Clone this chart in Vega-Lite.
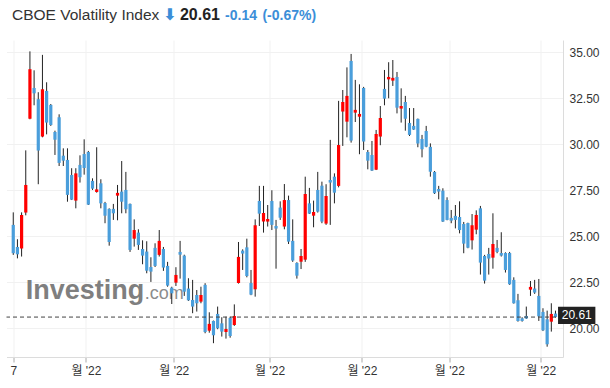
{
  "$schema": "https://vega.github.io/schema/vega-lite/v6.json",
  "width": 556.5,
  "height": 317,
  "autosize": "none",
  "padding": {"left": 6.5, "top": 40, "right": 47, "bottom": 31},
  "background": "white",
  "config": {
    "view": {"stroke": null},
    "axis": {"labelFont": "Liberation Sans", "labelFontSize": 12, "labelColor": "#333333", "gridColor": "#f1f1f1", "domainColor": "#dcdcdc", "title": null}
  },
  "data": {"values": [
    {"i":0,"o":25.62,"h":26.30,"l":23.99,"c":24.08},
    {"i":1,"o":24.42,"h":24.84,"l":23.80,"c":24.02},
    {"i":2,"o":24.33,"h":26.30,"l":23.90,"c":26.16},
    {"i":3,"o":26.29,"h":29.67,"l":26.14,"c":27.79},
    {"i":4,"o":31.39,"h":35.05,"l":31.36,"c":34.08},
    {"i":5,"o":33.06,"h":34.02,"l":32.12,"c":32.77},
    {"i":6,"o":32.45,"h":32.83,"l":27.83,"c":29.66},
    {"i":7,"o":30.42,"h":34.86,"l":30.38,"c":32.99},
    {"i":8,"o":32.90,"h":33.37,"l":30.54,"c":31.18},
    {"i":9,"o":32.14,"h":32.19,"l":31.00,"c":31.05},
    {"i":10,"o":30.67,"h":30.74,"l":29.42,"c":30.25},
    {"i":11,"o":31.47,"h":31.63,"l":28.82,"c":28.99},
    {"i":12,"o":29.38,"h":29.78,"l":28.82,"c":29.11},
    {"i":13,"o":29.15,"h":29.78,"l":26.88,"c":27.25},
    {"i":14,"o":28.33,"h":28.70,"l":26.97,"c":26.99},
    {"i":15,"o":26.94,"h":28.70,"l":26.52,"c":28.42},
    {"i":16,"o":28.88,"h":29.40,"l":27.92,"c":28.21},
    {"i":17,"o":29.47,"h":30.27,"l":28.35,"c":28.71},
    {"i":18,"o":29.58,"h":29.64,"l":26.70,"c":26.72},
    {"i":19,"o":28.01,"h":28.15,"l":27.52,"c":27.59},
    {"i":20,"o":27.41,"h":29.84,"l":27.37,"c":27.55},
    {"i":21,"o":27.88,"h":28.10,"l":26.52,"c":26.79},
    {"i":22,"o":26.81,"h":26.87,"l":25.71,"c":26.12},
    {"i":23,"o":26.49,"h":26.52,"l":24.49,"c":24.69},
    {"i":24,"o":26.49,"h":26.76,"l":25.89,"c":26.25},
    {"i":25,"o":27.21,"h":27.79,"l":25.87,"c":27.36},
    {"i":26,"o":27.43,"h":29.09,"l":26.25,"c":26.88},
    {"i":27,"o":27.52,"h":28.50,"l":26.25,"c":26.47},
    {"i":28,"o":26.76,"h":26.78,"l":24.15,"c":24.26},
    {"i":29,"o":24.87,"h":25.92,"l":24.44,"c":25.34},
    {"i":30,"o":25.20,"h":25.38,"l":24.26,"c":24.53},
    {"i":31,"o":24.31,"h":24.78,"l":23.48,"c":23.95},
    {"i":32,"o":24.17,"h":24.73,"l":22.99,"c":23.13},
    {"i":33,"o":23.33,"h":23.86,"l":22.52,"c":23.08},
    {"i":34,"o":24.37,"h":24.62,"l":23.33,"c":23.39},
    {"i":35,"o":23.99,"h":25.34,"l":23.90,"c":24.75},
    {"i":36,"o":24.31,"h":24.42,"l":23.12,"c":23.30},
    {"i":37,"o":23.39,"h":23.61,"l":22.26,"c":22.32},
    {"i":38,"o":22.21,"h":22.26,"l":21.32,"c":21.90},
    {"i":39,"o":22.48,"h":23.32,"l":22.30,"c":22.90},
    {"i":40,"o":24.15,"h":24.75,"l":22.70,"c":24.00},
    {"i":41,"o":23.95,"h":24.00,"l":21.76,"c":21.99},
    {"i":42,"o":22.16,"h":22.72,"l":21.49,"c":21.52},
    {"i":43,"o":21.54,"h":22.63,"l":20.82,"c":21.18},
    {"i":44,"o":21.81,"h":22.08,"l":20.91,"c":21.36},
    {"i":45,"o":21.45,"h":22.26,"l":21.36,"c":21.81},
    {"i":46,"o":22.36,"h":22.45,"l":19.73,"c":19.80},
    {"i":47,"o":19.87,"h":20.87,"l":19.76,"c":20.24},
    {"i":48,"o":20.40,"h":20.42,"l":19.19,"c":19.62},
    {"i":49,"o":20.78,"h":21.18,"l":19.95,"c":20.00},
    {"i":50,"o":20.27,"h":20.60,"l":19.55,"c":19.82},
    {"i":51,"o":19.80,"h":20.63,"l":19.44,"c":19.96},
    {"i":52,"o":20.56,"h":20.63,"l":19.49,"c":19.58},
    {"i":53,"o":20.18,"h":21.30,"l":20.13,"c":20.67},
    {"i":54,"o":22.46,"h":24.69,"l":22.43,"c":23.88},
    {"i":55,"o":24.22,"h":24.29,"l":23.17,"c":24.06},
    {"i":56,"o":24.40,"h":24.87,"l":22.77,"c":22.84},
    {"i":57,"o":22.46,"h":23.17,"l":21.80,"c":21.83},
    {"i":58,"o":22.12,"h":25.92,"l":21.72,"c":25.60},
    {"i":59,"o":26.92,"h":27.74,"l":25.56,"c":26.23},
    {"i":60,"o":25.80,"h":27.74,"l":25.20,"c":26.27},
    {"i":61,"o":25.80,"h":26.70,"l":25.53,"c":25.94},
    {"i":62,"o":26.92,"h":27.50,"l":25.34,"c":25.62},
    {"i":63,"o":25.56,"h":25.89,"l":23.24,"c":25.42},
    {"i":64,"o":26.56,"h":26.90,"l":25.89,"c":26.01},
    {"i":65,"o":25.53,"h":27.84,"l":25.38,"c":26.97},
    {"i":66,"o":26.97,"h":27.21,"l":24.58,"c":24.71},
    {"i":67,"o":24.75,"h":25.92,"l":23.61,"c":23.68},
    {"i":68,"o":23.55,"h":23.59,"l":22.70,"c":22.86},
    {"i":69,"o":23.62,"h":24.31,"l":23.22,"c":23.93},
    {"i":70,"o":23.73,"h":28.24,"l":23.61,"c":27.30},
    {"i":71,"o":26.79,"h":27.63,"l":26.21,"c":26.23},
    {"i":72,"o":26.12,"h":26.94,"l":25.49,"c":26.32},
    {"i":73,"o":27.52,"h":28.50,"l":26.29,"c":26.34},
    {"i":74,"o":27.75,"h":27.97,"l":25.71,"c":25.80},
    {"i":75,"o":25.69,"h":27.83,"l":25.62,"c":27.19},
    {"i":76,"o":28.06,"h":30.24,"l":25.62,"c":27.92},
    {"i":77,"o":28.24,"h":28.42,"l":26.79,"c":27.37},
    {"i":78,"o":27.74,"h":32.36,"l":27.66,"c":29.96},
    {"i":79,"o":31.78,"h":32.95,"l":29.91,"c":32.30},
    {"i":80,"o":31.23,"h":34.18,"l":30.38,"c":32.63},
    {"i":81,"o":34.53,"h":34.91,"l":30.09,"c":30.20},
    {"i":82,"o":31.72,"h":33.50,"l":31.21,"c":31.87},
    {"i":83,"o":31.50,"h":33.26,"l":29.46,"c":31.65},
    {"i":84,"o":33.06,"h":33.12,"l":29.69,"c":30.15},
    {"i":85,"o":29.58,"h":29.69,"l":28.64,"c":29.11},
    {"i":86,"o":29.42,"h":30.18,"l":28.55,"c":28.57},
    {"i":87,"o":28.62,"h":30.78,"l":28.60,"c":30.56},
    {"i":88,"o":30.42,"h":32.08,"l":29.95,"c":31.43},
    {"i":89,"o":33.01,"h":34.04,"l":32.12,"c":32.48},
    {"i":90,"o":33.53,"h":34.46,"l":32.50,"c":33.66},
    {"i":91,"o":33.46,"h":34.58,"l":33.17,"c":33.61},
    {"i":92,"o":33.66,"h":33.93,"l":31.68,"c":31.99},
    {"i":93,"o":31.94,"h":33.04,"l":31.18,"c":32.08},
    {"i":94,"o":32.30,"h":32.63,"l":30.74,"c":31.39},
    {"i":95,"o":31.16,"h":31.97,"l":30.45,"c":30.51},
    {"i":96,"o":31.00,"h":31.97,"l":30.78,"c":30.80},
    {"i":97,"o":31.38,"h":31.40,"l":29.84,"c":30.04},
    {"i":98,"o":30.29,"h":30.51,"l":29.29,"c":29.73},
    {"i":99,"o":30.72,"h":31.00,"l":29.84,"c":29.87},
    {"i":100,"o":29.86,"h":30.05,"l":28.24,"c":28.51},
    {"i":101,"o":28.50,"h":28.55,"l":27.30,"c":27.34},
    {"i":102,"o":27.57,"h":27.74,"l":27.01,"c":27.43},
    {"i":103,"o":27.48,"h":27.61,"l":25.78,"c":25.80},
    {"i":104,"o":26.97,"h":27.12,"l":25.87,"c":25.89},
    {"i":105,"o":26.00,"h":26.43,"l":25.71,"c":25.85},
    {"i":106,"o":26.11,"h":26.70,"l":25.43,"c":25.89},
    {"i":107,"o":26.05,"h":26.90,"l":25.16,"c":25.34},
    {"i":108,"o":25.67,"h":25.78,"l":24.08,"c":24.60},
    {"i":109,"o":25.72,"h":25.74,"l":24.35,"c":24.38},
    {"i":110,"o":24.78,"h":26.21,"l":24.28,"c":25.60},
    {"i":111,"o":25.36,"h":26.41,"l":25.11,"c":26.16},
    {"i":112,"o":26.52,"h":26.65,"l":22.92,"c":23.57},
    {"i":113,"o":23.93,"h":23.99,"l":22.43,"c":22.59},
    {"i":114,"o":24.04,"h":24.37,"l":22.92,"c":23.79},
    {"i":115,"o":23.84,"h":26.25,"l":23.24,"c":24.58},
    {"i":116,"o":24.37,"h":24.80,"l":24.08,"c":24.15},
    {"i":117,"o":24.09,"h":25.22,"l":23.90,"c":23.95},
    {"i":118,"o":24.09,"h":24.13,"l":23.03,"c":23.17},
    {"i":119,"o":24.09,"h":24.15,"l":22.36,"c":22.39},
    {"i":120,"o":22.63,"h":22.77,"l":21.34,"c":21.36},
    {"i":121,"o":21.52,"h":21.87,"l":20.36,"c":20.40},
    {"i":122,"o":20.54,"h":20.60,"l":20.36,"c":20.40},
    {"i":123,"o":20.67,"h":21.18,"l":20.51,"c":20.53},
    {"i":124,"o":22.10,"h":22.57,"l":21.76,"c":22.25},
    {"i":125,"o":22.16,"h":22.63,"l":21.87,"c":21.94},
    {"i":126,"o":21.76,"h":22.68,"l":20.40,"c":20.65},
    {"i":127,"o":20.89,"h":21.09,"l":19.85,"c":19.89},
    {"i":128,"o":20.49,"h":20.96,"l":19.00,"c":19.13},
    {"i":129,"o":20.36,"h":21.36,"l":19.82,"c":20.78},
    {"i":130,"o":20.80,"h":20.96,"l":20.58,"c":20.61}
  ]},
  "layer": [
    {
      "mark": {"type": "text", "font": "Liberation Sans", "fontWeight": "bold", "fontSize": 27, "color": "#7f7f7f", "align": "left", "baseline": "alphabetic"},
      "data": {"values": [{"t": "Investing"}]},
      "encoding": {
        "x": {"datum": 3.0, "type": "quantitative", "scale": {"domain": [-0.42, 130.6], "nice": false, "zero": false},
          "axis": {"orient": "bottom", "values": [0, 17.43, 38.48, 61.46, 83.59, 104.55, 126.45], "labelExpr": "datum.value == 0 ? '7' : \"월 '22\"", "labelFont": "Liberation Sans, Noto Sans CJK KR", "labelFlush": false, "labelOverlap": false, "grid": true, "ticks": true, "tickSize": 5, "tickColor": "#aaaaaa", "labelPadding": 3}},
        "y": {"datum": 21.59, "type": "quantitative", "scale": {"domain": [18.44, 35.668], "nice": false, "zero": false},
          "axis": {"orient": "right", "values": [20, 22.5, 25, 27.5, 30, 32.5, 35], "format": ".2f", "grid": true, "ticks": false, "labelPadding": 6}},
        "text": {"field": "t"}
      }
    },
    {
      "mark": {"type": "text", "font": "Liberation Sans", "fontSize": 18, "color": "#8c8c8c", "align": "left", "baseline": "alphabetic"},
      "data": {"values": [{"t": ".com"}]},
      "encoding": {
        "x": {"datum": 31.5, "type": "quantitative"},
        "y": {"datum": 21.59, "type": "quantitative"},
        "text": {"field": "t"}
      }
    },
    {
      "mark": {"type": "rule", "color": "#222222", "strokeWidth": 1},
      "encoding": {
        "x": {"field": "i", "type": "quantitative"},
        "y": {"field": "l", "type": "quantitative"},
        "y2": {"field": "h"}
      }
    },
    {
      "mark": {"type": "bar", "width": 3.2},
      "encoding": {
        "x": {"field": "i", "type": "quantitative"},
        "y": {"field": "o", "type": "quantitative"},
        "y2": {"field": "c"},
        "color": {"condition": {"test": "datum.c > datum.o", "value": "#ff0000"}, "value": "#4a9edb"}
      }
    },
    {
      "mark": {"type": "rule", "color": "#444444", "strokeWidth": 1, "strokeDash": [4, 3]},
      "data": {"values": [{"v": 20.61}]},
      "encoding": {"y": {"field": "v", "type": "quantitative"}}
    },
    {
      "mark": {"type": "rect", "color": "#222222"},
      "data": {"values": [{"v": 20.61}]},
      "encoding": {
        "x": {"datum": 130.61, "type": "quantitative"},
        "x2": {"datum": 139.56},
        "y": {"datum": 21.17, "type": "quantitative"},
        "y2": {"datum": 20.23}
      }
    },
    {
      "mark": {"type": "text", "font": "Liberation Sans", "fontSize": 12, "color": "white", "align": "center", "baseline": "middle"},
      "data": {"values": [{"v": "20.61"}]},
      "encoding": {
        "x": {"datum": 135.1, "type": "quantitative"},
        "y": {"datum": 20.70, "type": "quantitative"},
        "text": {"field": "v"}
      }
    },
    {
      "mark": {"type": "text", "font": "Liberation Sans", "fontSize": 15.5, "color": "#333333", "align": "left", "baseline": "alphabetic"},
      "data": {"values": [{"t": "CBOE Volatility Index"}]},
      "encoding": {
        "x": {"datum": -0.30, "type": "quantitative"},
        "y": {"datum": 36.755, "type": "quantitative"},
        "text": {"field": "t"}
      }
    },
    {
      "mark": {"type": "text", "font": "DejaVu Sans", "fontSize": 16, "fontWeight": "bold", "color": "#3b8ed8", "align": "center", "baseline": "alphabetic"},
      "data": {"values": [{"t": "⬇"}]},
      "encoding": {
        "x": {"datum": 37.49, "type": "quantitative"},
        "y": {"datum": 36.755, "type": "quantitative"},
        "text": {"field": "t"}
      }
    },
    {
      "mark": {"type": "text", "font": "Liberation Sans", "fontSize": 16, "fontWeight": "bold", "color": "#222222", "align": "left", "baseline": "alphabetic"},
      "data": {"values": [{"t": "20.61"}]},
      "encoding": {
        "x": {"datum": 39.96, "type": "quantitative"},
        "y": {"datum": 36.755, "type": "quantitative"},
        "text": {"field": "t"}
      }
    },
    {
      "mark": {"type": "text", "font": "Liberation Sans", "fontSize": 14, "fontWeight": "bold", "color": "#3b8ed8", "align": "left", "baseline": "alphabetic"},
      "data": {"values": [{"t": "-0.14"}]},
      "encoding": {
        "x": {"datum": 50.79, "type": "quantitative"},
        "y": {"datum": 36.755, "type": "quantitative"},
        "text": {"field": "t"}
      }
    },
    {
      "mark": {"type": "text", "font": "Liberation Sans", "fontSize": 14, "fontWeight": "bold", "color": "#3b8ed8", "align": "left", "baseline": "alphabetic"},
      "data": {"values": [{"t": "(-0.67%)"}]},
      "encoding": {
        "x": {"datum": 59.74, "type": "quantitative"},
        "y": {"datum": 36.755, "type": "quantitative"},
        "text": {"field": "t"}
      }
    }
  ]
}
